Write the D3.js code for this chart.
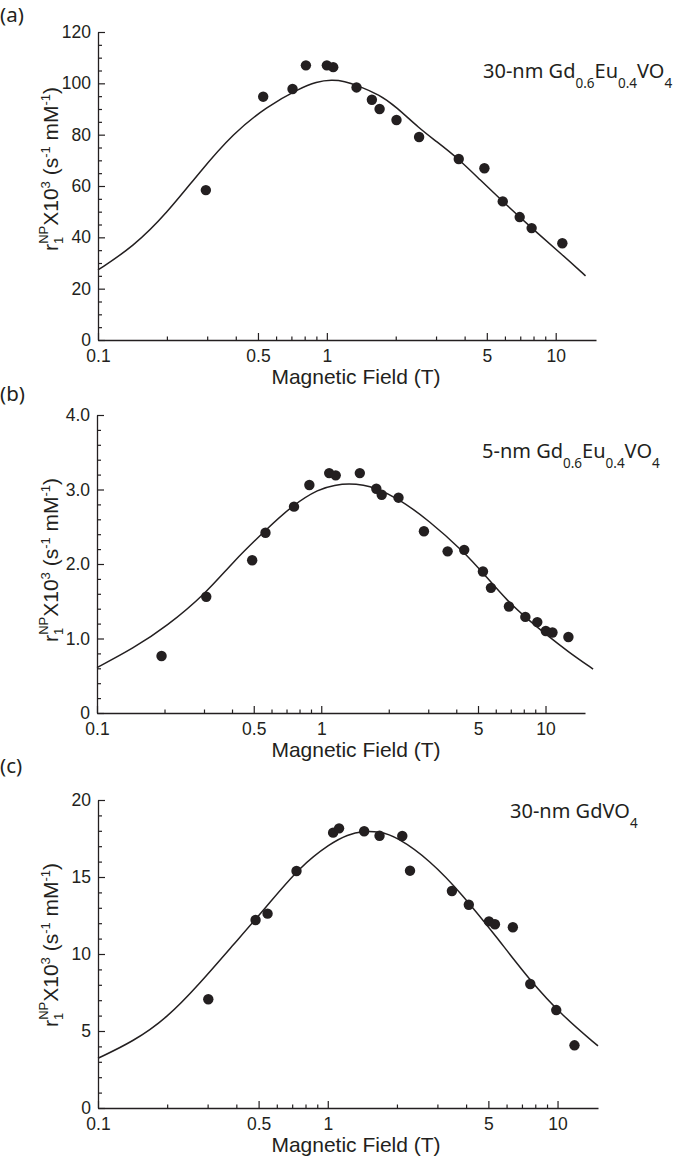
<!DOCTYPE html>
<html><head><meta charset="utf-8">
<script src="https://cdn.jsdelivr.net/npm/d3@7"></script>
<style>body{margin:0;background:#fff} svg{display:block}</style>
</head><body>
<svg id="chart" width="675" height="1159"></svg>
<script>
// ---------- shared axis data ----------
const xDomain = [0.1, 15];
const xTickValues = [0.1, 0.5, 1, 5, 10];
const xTickLabels = ["0.1", "0.5", "1", "5", "10"];
const xMinorTicks = [0.2, 0.3, 0.4, 0.6, 0.7, 0.8, 0.9, 2, 3, 4, 6, 7, 8, 9];
const xTitle = "Magnetic Field (T)";
const panelLabels = ["(a)", "(b)", "(c)"];

// ---------- panel (a): 30-nm Gd0.6Eu0.4VO4 ----------
const aField = [0.296, 0.527, 0.708, 0.81, 1.0, 1.066, 1.348, 1.573, 1.70, 2.015, 2.53, 3.77, 4.88, 5.87, 6.96, 7.85, 10.69];
const aR1    = [58.4, 94.8, 97.8, 107.0, 107.0, 106.3, 98.4, 93.6, 90.0, 85.7, 79.1, 70.5, 66.9, 54.0, 47.9, 43.6, 37.7];
const aFitField = [0.1, 0.143, 0.2, 0.279, 0.39, 0.545, 0.76, 0.9, 1.05, 1.2, 1.35, 1.7, 2.0, 2.53, 3.0, 3.77, 4.66, 5.87, 7.85, 10.76, 13.5];
const aFitR1    = [27.3, 36.4, 49.4, 65.6, 80.5, 90.9, 98.0, 100.6, 101.4, 100.8, 99.3, 95.5, 91.0, 82.5, 77.5, 70.5, 62.5, 54.0, 43.6, 33.0, 25.0];
const aYDomain = [0, 120];
const aYTicks = [0, 20, 40, 60, 80, 100, 120];
const aYTickLabels = ["0", "20", "40", "60", "80", "100", "120"];
const aYMinor = [5, 10, 15, 25, 30, 35, 45, 50, 55, 65, 70, 75, 85, 90, 95, 105, 110, 115];
const aLegend = [["30-nm Gd", false], ["0.6", true], ["Eu", false], ["0.4", true], ["VO", false], ["4", true]];

// ---------- panel (b): 5-nm Gd0.6Eu0.4VO4 ----------
const bField = [0.194, 0.307, 0.492, 0.564, 0.756, 0.885, 1.085, 1.16, 1.486, 1.76, 1.86, 2.21, 2.87, 3.66, 4.34, 5.26, 5.71, 6.87, 8.13, 9.19, 10.03, 10.74, 12.65];
const bR1    = [0.765, 1.56, 2.05, 2.42, 2.77, 3.06, 3.22, 3.19, 3.22, 3.01, 2.93, 2.89, 2.44, 2.17, 2.19, 1.90, 1.68, 1.43, 1.29, 1.22, 1.10, 1.08, 1.02];
const bFitField = [0.1, 0.145, 0.204, 0.307, 0.404, 0.567, 0.745, 0.978, 1.15, 1.33, 1.55, 1.74, 2.21, 3.0, 4.34, 5.26, 6.87, 8.4, 10.0, 12.65, 16.3];
const bFitR1    = [0.61, 0.868, 1.16, 1.61, 2.03, 2.46, 2.79, 3.01, 3.06, 3.08, 3.06, 3.02, 2.88, 2.59, 2.16, 1.88, 1.48, 1.25, 1.06, 0.82, 0.59];
const bYDomain = [0, 4];
const bYTicks = [0, 1, 2, 3, 4];
const bYTickLabels = ["0", "1.0", "2.0", "3.0", "4.0"];
const bYMinor = [0.2, 0.4, 0.6, 0.8, 1.2, 1.4, 1.6, 1.8, 2.2, 2.4, 2.6, 2.8, 3.2, 3.4, 3.6, 3.8];
const bLegend = [["5-nm Gd", false], ["0.6", true], ["Eu", false], ["0.4", true], ["VO", false], ["4", true]];

// ---------- panel (c): 30-nm GdVO4 ----------
const cField = [0.302, 0.485, 0.547, 0.731, 1.055, 1.12, 1.44, 1.68, 2.11, 2.28, 3.47, 4.11, 5.03, 5.34, 6.39, 7.61, 9.87, 11.85];
const cR1    = [7.06, 12.21, 12.62, 15.39, 17.88, 18.16, 17.97, 17.68, 17.66, 15.41, 14.09, 13.2, 12.12, 11.93, 11.74, 8.05, 6.36, 4.07];
const cFitField = [0.1, 0.142, 0.199, 0.278, 0.387, 0.541, 0.755, 1.03, 1.22, 1.42, 1.68, 1.99, 2.78, 3.87, 5.42, 7.55, 10.6, 15.0];
const cFitR1    = [3.23, 4.31, 5.82, 8.1, 10.58, 13.07, 15.67, 17.2, 17.75, 17.99, 17.95, 17.62, 16.1, 13.83, 11.12, 8.31, 5.93, 4.03];
const cYDomain = [0, 20];
const cYTicks = [0, 5, 10, 15, 20];
const cYTickLabels = ["0", "5", "10", "15", "20"];
const cYMinor = [1, 2, 3, 4, 6, 7, 8, 9, 11, 12, 13, 14, 16, 17, 18, 19];
const cLegend = [["30-nm GdVO", false], ["4", true]];

// ---------- layout ----------
const INK = "#231f20";
const AXIS_FONT = "'Liberation Sans', Arial, Helvetica, sans-serif";
const LABEL_FONT = "'Noto Sans', 'Open Sans', sans-serif";

const panels = [
  {label: panelLabels[0], labelY: 22, x0: 98, x1: 596, y0: 340, y1: 32, yDomain: aYDomain,
   yTicks: aYTicks, yTickLabels: aYTickLabels, yMinor: aYMinor,
   field: aField, r1: aR1, fitField: aFitField, fitR1: aFitR1,
   legend: aLegend, legX: 483, legY: 78, yLabelC: 169},
  {label: panelLabels[1], labelY: 401, x0: 97, x1: 585, y0: 713, y1: 415, yDomain: bYDomain,
   yTicks: bYTicks, yTickLabels: bYTickLabels, yMinor: bYMinor,
   field: bField, r1: bR1, fitField: bFitField, fitR1: bFitR1,
   legend: bLegend, legX: 482, legY: 458, yLabelC: 560},
  {label: panelLabels[2], labelY: 773, x0: 98, x1: 598, y0: 1108, y1: 800, yDomain: cYDomain,
   yTicks: cYTicks, yTickLabels: cYTickLabels, yMinor: cYMinor,
   field: cField, r1: cR1, fitField: cFitField, fitR1: cFitR1,
   legend: cLegend, legX: 510, legY: 818, yLabelC: 945}
];

const svg = d3.select("#chart");

function styleAxis(g) {
  g.selectAll("path.domain").attr("stroke", INK).attr("stroke-width", 1.3);
  g.selectAll(".tick line").attr("stroke", INK).attr("stroke-width", 1.2);
  g.selectAll(".tick text").attr("fill", INK).attr("font-family", AXIS_FONT).attr("font-size", 17.5);
}

panels.forEach(p => {
  const g = svg.append("g");
  const x = d3.scaleLog().domain(xDomain).range([p.x0, p.x1]);
  const y = d3.scaleLinear().domain(p.yDomain).range([p.y0, p.y1]);

  // minor x ticks
  g.append("g").attr("transform", `translate(0,${p.y0})`)
    .call(d3.axisBottom(x).tickValues(xMinorTicks).tickSize(-3.5).tickFormat(""))
    .call(a => a.select(".domain").remove())
    .call(styleAxis);
  // major x axis
  g.append("g").attr("transform", `translate(0,${p.y0})`)
    .call(d3.axisBottom(x).tickValues(xTickValues).tickSize(-7).tickSizeOuter(0).tickPadding(10)
      .tickFormat((d, i) => xTickLabels[i]))
    .call(styleAxis);
  // minor y ticks
  g.append("g").attr("transform", `translate(${p.x0},0)`)
    .call(d3.axisLeft(y).tickValues(p.yMinor).tickSize(-4).tickFormat(""))
    .call(a => a.select(".domain").remove())
    .call(styleAxis);
  // major y axis
  g.append("g").attr("transform", `translate(${p.x0},0)`)
    .call(d3.axisLeft(y).tickValues(p.yTicks).tickSize(-7).tickSizeOuter(0).tickPadding(7)
      .tickFormat((d, i) => p.yTickLabels[i]))
    .call(styleAxis);

  // fit curve
  const fit = p.fitField.map((f, i) => [f, p.fitR1[i]]);
  g.append("path")
    .datum(fit)
    .attr("fill", "none")
    .attr("stroke", INK)
    .attr("stroke-width", 1.5)
    .attr("d", d3.line().x(d => x(d[0])).y(d => y(d[1])).curve(d3.curveBasis));

  // data points
  g.selectAll("circle.pt")
    .data(p.field.map((f, i) => [f, p.r1[i]]))
    .join("circle")
    .attr("class", "pt")
    .attr("cx", d => x(d[0]))
    .attr("cy", d => y(d[1]))
    .attr("r", 5.2)
    .attr("fill", INK);

  // x title
  g.append("text")
    .attr("x", 356).attr("y", p.y0 + 44)
    .attr("text-anchor", "middle")
    .attr("font-family", AXIS_FONT).attr("font-size", 21).attr("fill", INK)
    .text(xTitle);

  // y title (rotated)
  const yt = g.append("text")
    .attr("transform", `translate(58,${p.yLabelC}) rotate(-90)`)
    .attr("text-anchor", "middle")
    .attr("font-family", AXIS_FONT).attr("font-size", 21).attr("fill", INK);
  yt.append("tspan").text("r");
  yt.append("tspan").attr("font-size", 13).attr("dy", 5).text("1");
  yt.append("tspan").attr("font-size", 13).attr("dx", -7).attr("dy", -15).text("NP");
  yt.append("tspan").attr("dy", 10).text("X10");
  yt.append("tspan").attr("font-size", 13).attr("dy", -8).text("3");
  yt.append("tspan").attr("dy", 8).text(" (s");
  yt.append("tspan").attr("font-size", 13).attr("dy", -8).text("-1");
  yt.append("tspan").attr("dy", 8).text(" mM");
  yt.append("tspan").attr("font-size", 13).attr("dy", -8).text("-1");
  yt.append("tspan").attr("dy", 8).text(")");

  // legend label
  const lt = g.append("text")
    .attr("x", p.legX).attr("y", p.legY)
    .attr("font-family", LABEL_FONT).attr("font-size", 20).attr("fill", INK);
  let shifted = false;
  p.legend.forEach(([s, sub]) => {
    const t = lt.append("tspan").text(s);
    if (sub) { t.attr("font-size", 13.5); if (!shifted) { t.attr("dy", 10); shifted = true; } }
    else if (shifted) { t.attr("dy", -10); shifted = false; }
  });

  // panel label
  g.append("text")
    .attr("x", 0).attr("y", p.labelY)
    .attr("font-family", LABEL_FONT).attr("font-size", 20.5).attr("fill", INK)
    .text(p.label);
});
</script>
</body></html>
